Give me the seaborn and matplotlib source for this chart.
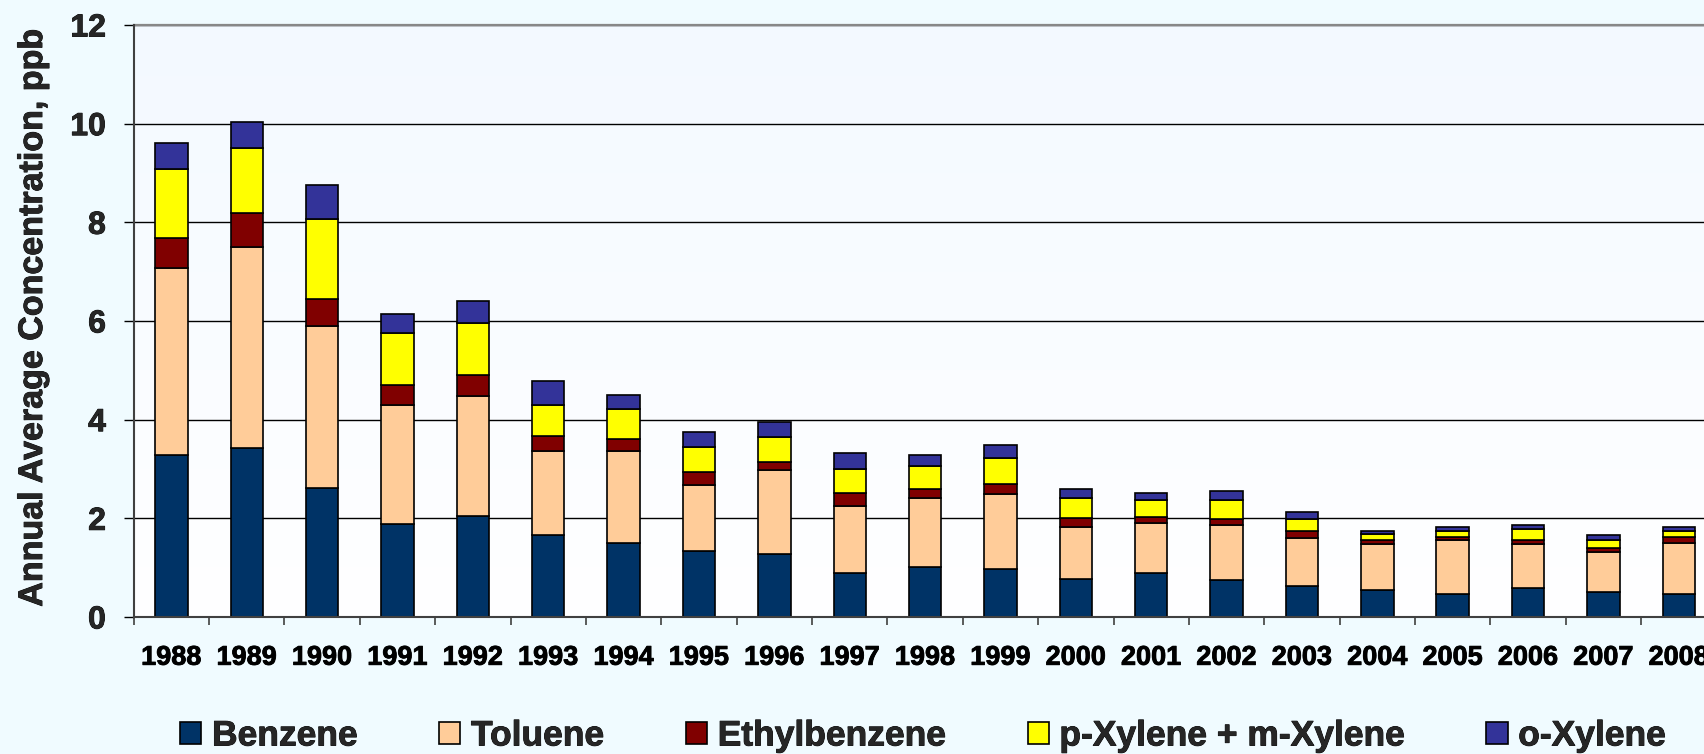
import numpy as np
import pandas as pd
import matplotlib
matplotlib.use("Agg")
import matplotlib.pyplot as plt
import matplotlib.patheffects as pe
from matplotlib.patches import Patch
from matplotlib.colors import LinearSegmentedColormap
import seaborn as sns

# Annual average concentrations (ppb) by compound
years = [str(y) for y in range(1988, 2009)]
benzene = [3.29, 3.42, 2.61, 1.88, 2.05, 1.66, 1.49, 1.33, 1.28, 0.90, 1.02,
           0.98, 0.77, 0.90, 0.75, 0.63, 0.55, 0.46, 0.59, 0.50, 0.46]
toluene = [3.79, 4.08, 3.28, 2.42, 2.43, 1.71, 1.87, 1.34, 1.69, 1.35, 1.40,
           1.52, 1.05, 1.01, 1.12, 0.98, 0.93, 1.10, 0.88, 0.81, 1.05]
ethylbenzene = [0.60, 0.69, 0.56, 0.41, 0.43, 0.30, 0.25, 0.26, 0.17, 0.27, 0.18,
                0.19, 0.18, 0.12, 0.12, 0.13, 0.09, 0.06, 0.10, 0.09, 0.11]
pm_xylene = [1.40, 1.32, 1.61, 1.04, 1.05, 0.63, 0.60, 0.52, 0.51, 0.49, 0.46,
             0.54, 0.42, 0.35, 0.39, 0.25, 0.12, 0.12, 0.21, 0.16, 0.12]
o_xylene = [0.53, 0.53, 0.70, 0.40, 0.44, 0.48, 0.30, 0.30, 0.31, 0.31, 0.22,
            0.26, 0.18, 0.13, 0.18, 0.14, 0.05, 0.09, 0.09, 0.10, 0.09]

series_names = ["Benzene", "Toluene", "Ethylbenzene", "p-Xylene + m-Xylene", "o-Xylene"]
series_values = [benzene, toluene, ethylbenzene, pm_xylene, o_xylene]
series_colors = ["#003366", "#FFCC99", "#800000", "#FFFF00", "#333399"]

y_ticks = [0, 2, 4, 6, 8, 10, 12]

sns.set_theme(style="white")
plt.rcParams["font.family"] = ["Liberation Sans", "DejaVu Sans"]
plt.rcParams["font.weight"] = "bold"

heavy = [pe.withStroke(linewidth=0.6, foreground="black")]

W, H = 1704, 754
fig = plt.figure(figsize=(W / 100, H / 100), dpi=100, facecolor="#F0FBFF")
ax = fig.add_axes([133.7 / W, 137 / H, 1582.8 / W, 592 / H])

# soft vertical gradient behind the bars
grad = LinearSegmentedColormap.from_list("bg", ["#FFFFFF", "#F3F9FF"])
ax.imshow(np.linspace(0, 1, 256).reshape(-1, 1), cmap=grad, origin="lower",
          extent=(-0.5, len(years) - 0.5, 0, 12), aspect="auto", zorder=0)

# stacked bars, one layer per compound
bottom = np.zeros(len(years))
for name, vals, col in zip(series_names, series_values, series_colors):
    df = pd.DataFrame({"year": years, "ppb": vals})
    sns.barplot(data=df, x="year", y="ppb", order=years, color=col, saturation=1,
                width=0.43, edgecolor="black", linewidth=1.2, bottom=bottom,
                errorbar=None, ax=ax, zorder=3)
    bottom = bottom + np.array(vals)

ax.set_xlim(-0.5, len(years) - 0.5)
ax.set_ylim(0, 12)
ax.set_yticks(y_ticks)
ax.set_yticklabels([str(t) for t in y_ticks], fontsize=23, fontweight="bold")
ax.set_xticks(range(len(years)))
ax.set_xticklabels(years, fontsize=19.5, fontweight="bold")
ax.set_xticks(np.arange(-0.5, len(years)), minor=True)
ax.tick_params(axis="x", which="major", length=0, pad=20, colors="black")
ax.tick_params(axis="x", which="minor", length=6, width=1.2, direction="out",
               color="#404040", bottom=True)
ax.tick_params(axis="y", which="major", length=7.5, width=1, direction="out",
               color="black", pad=12.5, left=True)
for lbl in ax.get_xticklabels() + ax.get_yticklabels():
    lbl.set_path_effects(heavy)

ax.set_axisbelow(True)
ax.yaxis.grid(True, color="black", linewidth=1.0, zorder=1)
ax.xaxis.grid(False)

for side in ("left", "bottom"):
    ax.spines[side].set_color("#404040")
    ax.spines[side].set_linewidth(1.5)
ax.spines["top"].set_color("#888888")
ax.spines["top"].set_linewidth(1.6)
ax.spines["right"].set_visible(False)
ax.spines["left"].set_zorder(4)
ax.spines["bottom"].set_zorder(4)

ax.set_xlabel("")
ax.set_ylabel("Annual Average Concentration, ppb", fontsize=24.5, fontweight="bold",
              path_effects=heavy)
ax.yaxis.set_label_coords(-0.0535, 0.505)

handles = [Patch(facecolor=c, edgecolor="black", linewidth=1.2) for c in series_colors]
leg = fig.legend(handles, series_names, loc="center", bbox_to_anchor=(923 / W, 1 - 736 / H),
                 ncol=5, frameon=False, prop={"size": 25.5, "weight": "bold"},
                 handlelength=0.6, handleheight=0.6, handletextpad=0.3, columnspacing=2.3)
for t in leg.get_texts():
    t.set_path_effects(heavy)

fig.savefig("out.png", dpi=100, facecolor=fig.get_facecolor())
